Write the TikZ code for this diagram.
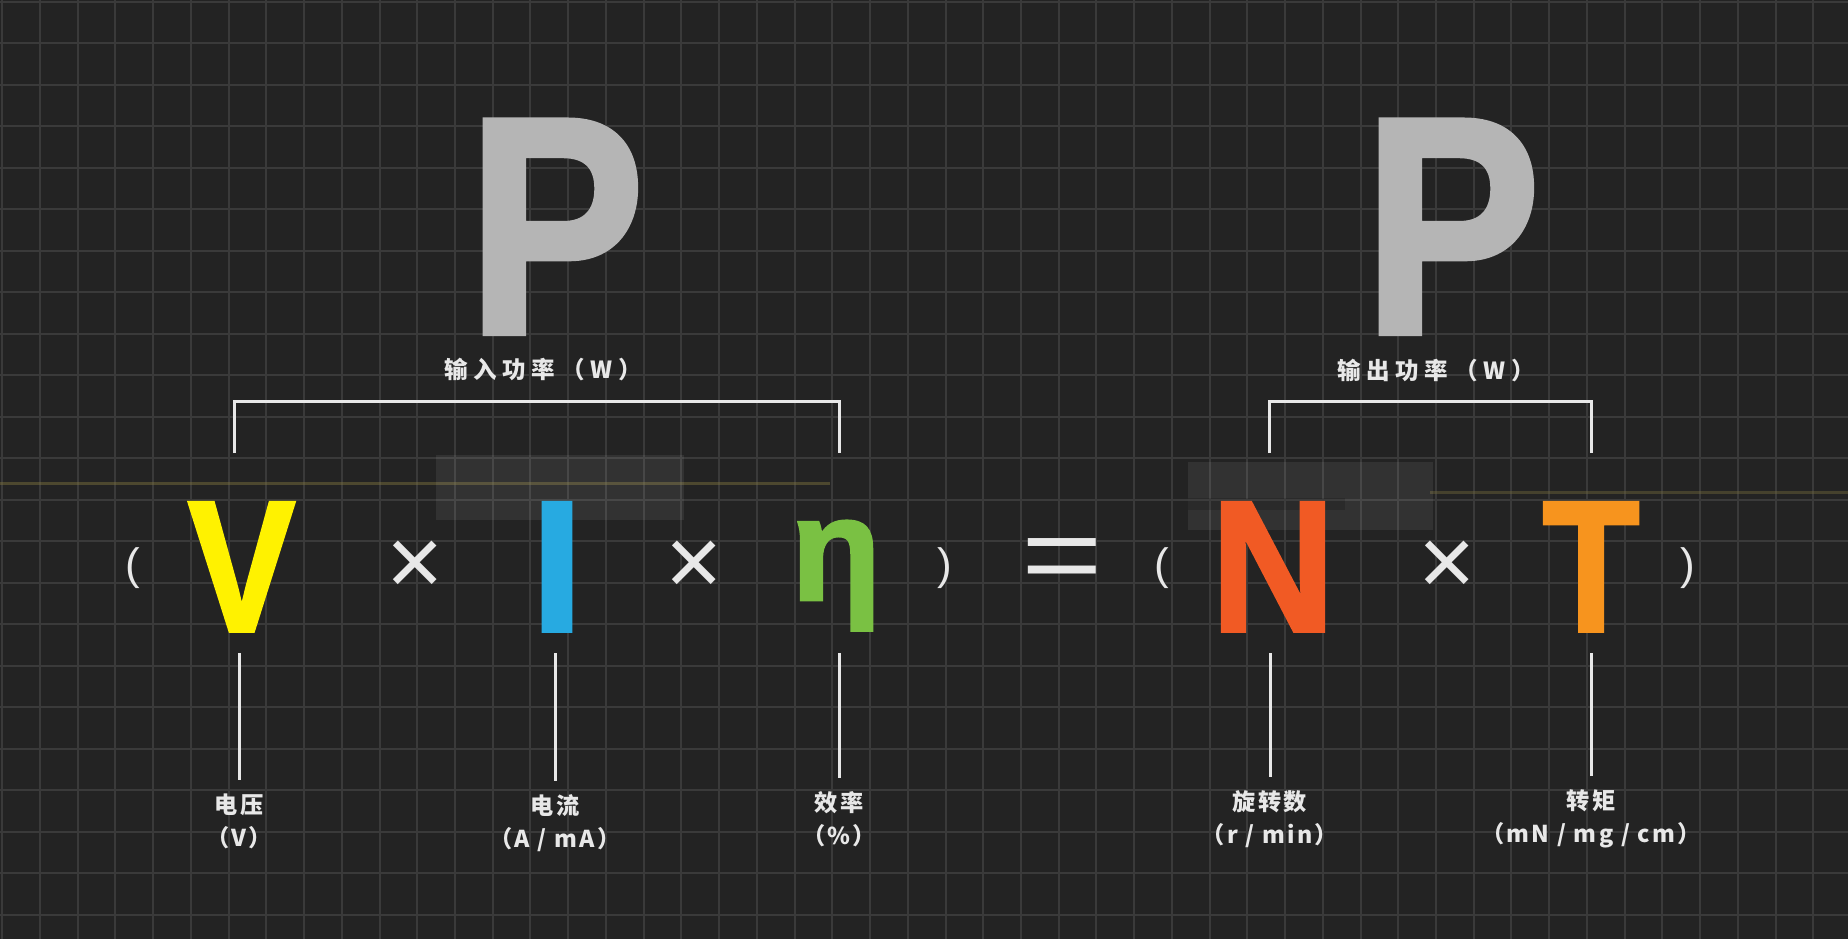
\documentclass[tikz,border=0pt]{standalone}
\usepackage{fontspec}
\setmainfont{Liberation Sans}
\newfontfamily\heavyfont[FakeBold=2]{Liberation Sans}
\newfontfamily\cjkfont[LetterSpace=10]{Noto Sans CJK SC}
\newfontfamily\cjkwide[LetterSpace=24]{Noto Sans CJK SC}
\usepackage{tikz}
\usepackage{xcolor}
\definecolor{bgdark}{RGB}{35,35,35}
\definecolor{gridgrey}{RGB}{58,58,58}
\definecolor{pgrey}{RGB}{181,181,181}
\definecolor{motoryellow}{RGB}{255,242,0}
\definecolor{motorblue}{RGB}{39,170,225}
\definecolor{motorgreen}{RGB}{122,193,67}
\definecolor{motorred}{RGB}{241,90,36}
\definecolor{motororange}{RGB}{247,148,30}
\definecolor{labelwhite}{RGB}{232,232,232}
\definecolor{glowyellow}{RGB}{120,110,60}
\usetikzlibrary{calc,positioning}

\begin{document}
\begin{tikzpicture}[x=0.01cm, y=-0.01cm,
    gridline/.style={gridgrey, line width=0.02cm},
    wline/.style={labelwhite, line width=0.03cm},
    bigp/.style={pgrey, inner sep=0, xscale=0.86, font=\heavyfont\bfseries\fontsize{87.8}{88}\selectfont},
    letter/.style={inner sep=0, text height=1.3cm, text depth=0pt, font=\heavyfont\bfseries\fontsize{53}{53}\selectfont},
    oper/.style={labelwhite, inner sep=0},
    unitlabel/.style={labelwhite, inner sep=0, align=center, font=\cjkfont\bfseries\fontsize{6.6}{9.4}\selectfont},
    powerlabel/.style={labelwhite, inner sep=0, font=\cjkwide\bfseries\fontsize{6.7}{9.4}\selectfont}]
    % Background and grid
    \fill[bgdark] (0,0) rectangle (1848,939);
    \useasboundingbox (0,0) rectangle (1848,939);
    \foreach \k in {0,...,48} {
        \draw[gridline] ({2.27+\k*37.73},0) -- ++(0,939);
    }
    \foreach \k in {0,...,22} {
        \draw[gridline] (0,{1.7+\k*41.5}) -- ++(1848,0);
    }
    
    % Faint glow and panels
    \draw[glowyellow, line width=0.03cm, opacity=0.5] (0,483) -- (830,483);
    \draw[glowyellow, line width=0.03cm, opacity=0.4] (1430,492) -- (1848,492);
    \fill[white, opacity=0.07] (436,455) rectangle (684,520);
    \fill[white, opacity=0.07] (1188,462) rectangle (1433,530);
    \fill[black, opacity=0.15] (1188,498) rectangle (1345,510);
    
    % Power letters
    \node[bigp, anchor=base] (pin) at (556,333) {P};
    \node[bigp, anchor=base] (pout) at (1452,333) {P};
    \node[powerlabel] (labin) at (543,370) {输入功率（W）};
    \node[powerlabel] (labout) at (1436,371) {输出功率（W）};
    
    % Formula
    \node[letter, motoryellow, xscale=0.86, anchor=base] (volt) at (241.6,631) {V};
    \node[letter, motorblue, anchor=base] (curr) at (557,631) {I};
    \node[motorgreen, inner sep=0, anchor=base, font=\heavyfont\bfseries\fontsize{41.8}{42}\selectfont] (eff) at (836,600) {η};
    \node[letter, motorred, xscale=0.92, anchor=base] (rpm) at (1273,631) {N};
    \node[letter, motororange, xscale=0.85, anchor=base] (torq) at (1591,631) {T};
    \node[oper, font=\fontsize{12.5}{13}\selectfont] (lpa) at (133,568) {(};
    \node[oper, font=\fontsize{27.9}{28}\selectfont] (mula) at (415,568) {×};
    \node[oper, font=\fontsize{27.9}{28}\selectfont] (mulb) at (694,568) {×};
    \node[oper, font=\fontsize{12.5}{13}\selectfont] (rpa) at (945,568) {)};
    \node[oper, xscale=1.27, font=\fontsize{31.3}{32}\selectfont] (eq) at (1062,566) {=};
    \node[oper, font=\fontsize{12.5}{13}\selectfont] (lpb) at (1162,568) {(};
    \node[oper, font=\fontsize{27.9}{28}\selectfont] (mulc) at (1447,568) {×};
    \node[oper, font=\fontsize{12.5}{13}\selectfont] (rpb) at (1688,568) {)};
    
    % Unit labels
    \node[unitlabel] (vlab) at (239,821) {电压\\（V）};
    \node[unitlabel] (clab) at (555,823) {电流\\（A / mA）};
    \node[unitlabel] (elab) at (839,819) {效率\\（\%）};
    \node[unitlabel] (nlab) at (1270,819) {旋转数\\（r / min）};
    \node[unitlabel] (tlab) at (1591,819) {转矩\\（mN / mg / cm）};
    
    % Brackets
    \draw[wline] ($(vlab.north |- volt.north)+(-5,-47)$) -- ++(0,-52) -| ($(elab.north |- volt.north)+(0,-47)$);
    \draw[wline] ($(nlab.north |- rpm.north)+(-1,-47)$) -- ++(0,-52) -| ($(tlab.north |- rpm.north)+(0,-47)$);
    
    % Leader lines
    \draw[wline] ([yshift=1.3mm]vlab.north) -- ($(vlab.north |- volt.south)+(0,21)$);
    \draw[wline] ([yshift=1.3mm]clab.north) -- ($(clab.north |- volt.south)+(0,21)$);
    \draw[wline] ([yshift=1.3mm]elab.north) -- ($(elab.north |- volt.south)+(0,21)$);
    \draw[wline] ([yshift=1.3mm]nlab.north) -- ($(nlab.north |- rpm.south)+(0,21)$);
    \draw[wline] ([yshift=1.3mm]tlab.north) -- ($(tlab.north |- torq.south)+(0,21)$);
\end{tikzpicture}
\end{document}
